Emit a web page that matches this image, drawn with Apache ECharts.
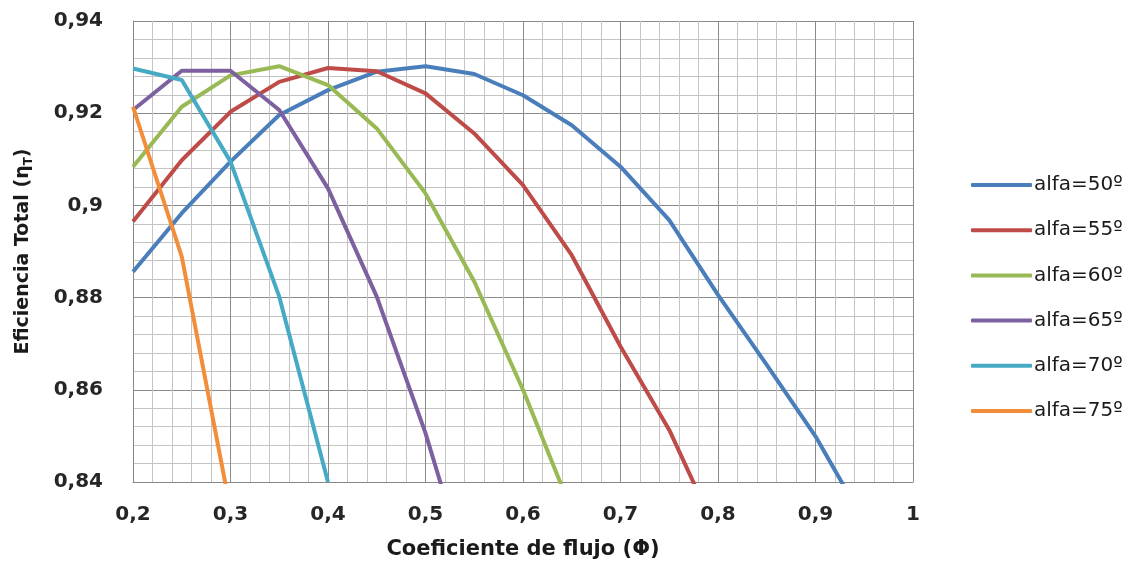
<!DOCTYPE html>
<html>
<head>
<meta charset="utf-8">
<script src="https://cdn.jsdelivr.net/npm/echarts@6/dist/echarts.min.js"></script>
<style>
  html, body { margin: 0; padding: 0; background: #fff; }
  #chart { width: 1135px; height: 565px; }
</style>
</head>
<body>
<div id="chart"></div>
<script>
// Flow coefficient (Φ) sampled every 0.05
const phi = [0.2, 0.25, 0.3, 0.35, 0.4, 0.45, 0.5, 0.55, 0.6, 0.65, 0.7, 0.75, 0.8, 0.85, 0.9, 0.95];

// Total efficiency for each blade angle (points below 0.84 fall outside the axis)
const alfa50 = [0.8856, 0.8983, 0.9095, 0.9196, 0.9250, 0.9290, 0.9302, 0.9285, 0.9239, 0.9174, 0.9084, 0.8968, 0.8806, 0.8654, 0.8499, 0.8314];
const alfa55 = [0.8965, 0.9098, 0.9203, 0.9268, 0.9298, 0.9291, 0.9243, 0.9156, 0.9044, 0.8892, 0.8694, 0.8513, 0.8284];
const alfa60 = [0.9084, 0.9214, 0.9282, 0.9302, 0.9261, 0.9167, 0.9026, 0.8835, 0.8600, 0.8337];
const alfa65 = [0.9207, 0.9292, 0.9292, 0.9207, 0.9037, 0.8802, 0.8506, 0.8156];
const alfa70 = [0.9297, 0.9272, 0.9095, 0.8802, 0.8400];
const alfa75 = [0.9214, 0.8889, 0.8339];

const seriesNames = ['alfa=50º', 'alfa=55º', 'alfa=60º', 'alfa=65º', 'alfa=70º', 'alfa=75º'];
const seriesValues = [alfa50, alfa55, alfa60, alfa65, alfa70, alfa75];
const colors = ['#4A7EBB', '#BE4B48', '#98B954', '#7D60A0', '#46AAC5', '#F28E3A'];

const FONT = '"DejaVu Sans", Verdana, sans-serif';
const comma = v => String(+v.toFixed(2)).replace('.', ',');

const chart = echarts.init(document.getElementById('chart'), null, { renderer: 'canvas' });
chart.setOption({
  animation: false,
  backgroundColor: '#ffffff',
  color: colors,
  grid: { left: 133, right: 222, top: 21, bottom: 83, containLabel: false },
  legend: {
    orient: 'vertical',
    left: 966,
    top: 170,
    icon: 'roundRect',
    itemWidth: 61,
    itemHeight: 4,
    itemGap: 25.2,
    textStyle: { fontFamily: FONT, fontSize: 20, lineHeight: 20, color: '#1a1a1a', padding: [0, 0, 0, -3] },
    data: seriesNames
  },
  xAxis: {
    type: 'value',
    min: 0.2,
    max: 1,
    interval: 0.1,
    name: 'Coeficiente de flujo (Φ)',
    nameLocation: 'middle',
    nameGap: 57,
    nameTextStyle: { fontFamily: FONT, fontSize: 21, fontWeight: 'bold', color: '#1a1a1a' },
    axisLine: { show: true, lineStyle: { color: '#868686', width: 1 } },
    axisTick: { show: false },
    axisLabel: { formatter: comma, margin: 23, fontFamily: FONT, fontSize: 20, fontWeight: 'bold', color: '#262626' },
    splitLine: { show: true, lineStyle: { color: '#8a8a8a', width: 1 } },
    minorTick: { show: false, splitNumber: 5 },
    minorSplitLine: { show: true, lineStyle: { color: '#c4c4c4', width: 1 } }
  },
  yAxis: {
    type: 'value',
    min: 0.84,
    max: 0.94,
    interval: 0.02,
    name: 'Eficiencia Total (η{sub|T})',
    nameLocation: 'middle',
    nameGap: 98,
    nameRotate: 90,
    nameTextStyle: {
      fontFamily: FONT, fontSize: 19, fontWeight: 'bold', color: '#1a1a1a',
      rich: { sub: { fontFamily: FONT, fontSize: 12, fontWeight: 'bold', color: '#1a1a1a', padding: [11, 0, 0, 0] } }
    },
    axisLine: { show: true, lineStyle: { color: '#868686', width: 1 } },
    axisTick: { show: false },
    axisLabel: { formatter: comma, margin: 30, fontFamily: FONT, fontSize: 20, fontWeight: 'bold', color: '#262626' },
    splitLine: { show: true, lineStyle: { color: '#8a8a8a', width: 1 } },
    minorTick: { show: false, splitNumber: 5 },
    minorSplitLine: { show: true, lineStyle: { color: '#c4c4c4', width: 1 } }
  },
  series: seriesNames.map((name, i) => ({
    name: name,
    type: 'line',
    symbol: 'none',
    clip: true,
    lineStyle: { width: 4, color: colors[i] },
    itemStyle: { color: colors[i] },
    data: seriesValues[i].map((v, j) => [phi[j], v])
  }))
});
</script>
</body>
</html>
